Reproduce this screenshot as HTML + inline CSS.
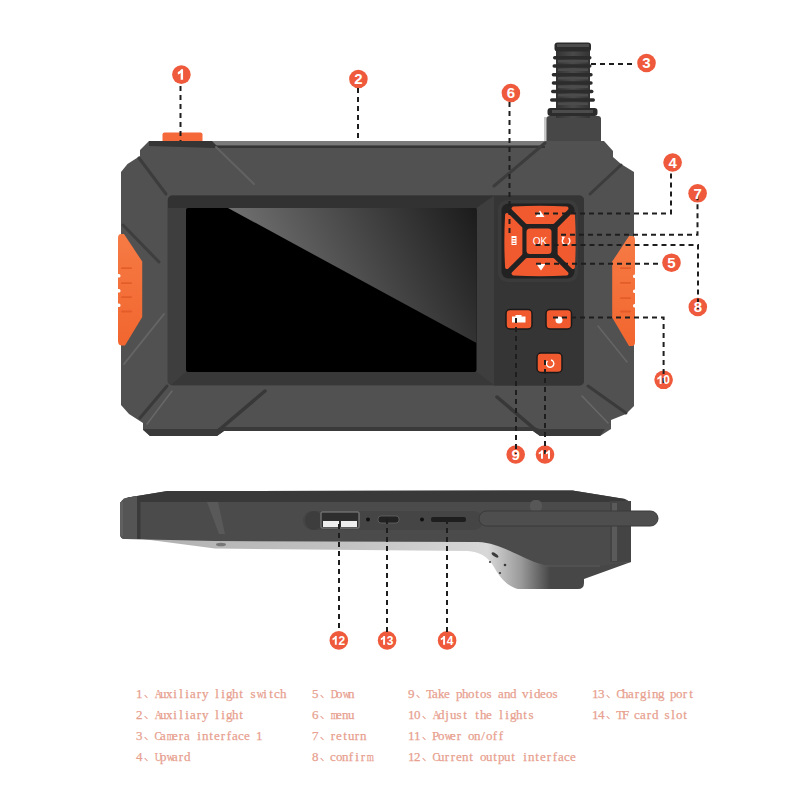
<!DOCTYPE html>
<html><head><meta charset="utf-8">
<style>
html,body{margin:0;padding:0;background:#fff;width:800px;height:800px;overflow:hidden;position:relative}
svg{position:absolute;left:0;top:0}
.t{position:absolute;font-family:"Liberation Serif",serif;font-size:13px;line-height:14px;height:14px;color:#e89f8f;-webkit-text-stroke:0.25px #e89f8f;white-space:pre}
.t b{display:inline-block;width:6px;text-align:center;font-weight:normal}
.t i{display:inline-block;width:12px;height:8px;position:relative;font-style:normal}
.t i:after{content:"";position:absolute;left:2px;top:6px;width:4px;height:1.1px;background:#e89f8f;transform:rotate(45deg)}
.n{font-family:"Liberation Sans",sans-serif;font-weight:bold;fill:#fff;text-anchor:middle}
</style></head><body>
<svg width="800" height="800" viewBox="0 0 800 800">
<defs>
 <linearGradient id="scr" gradientUnits="userSpaceOnUse" x1="228" y1="208" x2="426.4" y2="108.8">
  <stop offset="0" stop-color="#707070"/>
  <stop offset="1" stop-color="#1b1b1b"/>
 </linearGradient>
 <linearGradient id="cab" x1="0" x2="1" y1="0" y2="0">
  <stop offset="0" stop-color="#333"/>
  <stop offset="0.5" stop-color="#4a4a4a"/>
  <stop offset="1" stop-color="#333"/>
 </linearGradient>
 <linearGradient id="uside" gradientUnits="userSpaceOnUse" x1="135" x2="550" y1="0" y2="0">
  <stop offset="0" stop-color="#b0b0b0"/>
  <stop offset="0.5" stop-color="#c2c2c2"/>
  <stop offset="0.85" stop-color="#d8d8d8"/>
  <stop offset="0.93" stop-color="#9a9a9a"/>
  <stop offset="1" stop-color="#474747"/>
 </linearGradient>
</defs>
<!-- cable -->
<g id="cable">
 <rect x="544" y="117" width="4" height="25" fill="#c8c8c8"/>
 <rect x="546.5" y="116" width="54.5" height="30" rx="3" fill="#474747"/>
 <rect x="556" y="45" width="34" height="73" fill="url(#cab)"/>
 <g fill="#2c2c2c">
  <rect x="554.5" y="42.5" width="36.5" height="9" rx="3"/>
  <rect x="553" y="56" width="38.5" height="3.5" rx="1.7"/>
  <rect x="552.5" y="64.3" width="39" height="3.5" rx="1.7"/>
  <rect x="551.7" y="73" width="41" height="3.5" rx="1.7"/>
  <rect x="551.7" y="81.3" width="41" height="3.5" rx="1.7"/>
  <rect x="551" y="89.8" width="42.5" height="3.5" rx="1.7"/>
  <rect x="550" y="98.3" width="45" height="3.5" rx="1.7"/>
  <rect x="547.5" y="108" width="50" height="8" rx="3"/>
 </g>
 <g fill="#4c4c4c">
  <rect x="557" y="44" width="32" height="3"/>
  <rect x="558" y="60" width="30" height="2.5"/>
  <rect x="558" y="68.5" width="30" height="2.5"/>
  <rect x="558" y="77" width="30" height="2.5"/>
  <rect x="558" y="85.5" width="30" height="2.5"/>
  <rect x="558" y="94" width="30" height="2.5"/>
  <rect x="558" y="102.5" width="30" height="2.5"/>
  <rect x="552" y="110" width="41" height="3"/>
 </g>
</g>
<!-- top orange button -->
<rect x="162.5" y="132.5" width="40" height="12" rx="2" fill="#f4683a"/>
<!-- device body -->
<path d="M149,141 L604,141 L613,151 L613,157 L621,164 L634,172 L634,406 L626,414 L611,420 L611,429 L600,436 L540,436 L533,431 L224,431 L217,436 L150,436 L143,430 L143,423 L129,414 L121,405 L121,172 L127.5,164 L140,156 L140,150 Z" fill="#515151"/>
<!-- top strip -->
<path d="M212,141 L545,141 L545,145 L212,145 Z" fill="#7a7a7a"/>
<path d="M149,141 L212,141 L217,146 L545,146 L545,148 L215,148 L149,146 Z" fill="#353535"/>
<path d="M143,429 L217,429 L224,427 L533,427 L540,429 L605,429 L600,436 L540,436 L533,431 L224,431 L217,436 L150,436 Z" fill="#3a3a3a"/>
<!-- grooves -->
<g fill="none" stroke-linecap="round">
 <path d="M216,147 L254,184" stroke="#626262" stroke-width="2"/>
 <path d="M545,143 L494,186" stroke="#3c3c3c" stroke-width="3"/>
 <path d="M139,158 L166,194" stroke="#3c3c3c" stroke-width="3"/>
 <path d="M621,165 L590,194" stroke="#3c3c3c" stroke-width="3"/>
 <path d="M164,314 L124,364" stroke="#656565" stroke-width="2"/>
 <path d="M123,225 L159,262" stroke="#3e3e3e" stroke-width="3"/>
 <path d="M167,386 L140,418" stroke="#3a3a3a" stroke-width="3"/>
 <path d="M172,391 L147,424" stroke="#686868" stroke-width="1.5"/>
 <path d="M265,391 L219,430" stroke="#383838" stroke-width="3.5"/>
 <path d="M497,397 L537,431" stroke="#383838" stroke-width="3.5"/>
 <path d="M588,386 L626,413" stroke="#3a3a3a" stroke-width="3"/>
 <path d="M582,396 L608,423" stroke="#686868" stroke-width="1.5"/>
 <path d="M598,326 L627,362" stroke="#656565" stroke-width="1.5"/>
</g>
<!-- left grip -->
<defs>
 <linearGradient id="grip" x1="0" x2="0" y1="0" y2="1">
  <stop offset="0" stop-color="#f67a44"/>
  <stop offset="1" stop-color="#f2662f"/>
 </linearGradient>
</defs>
<path d="M118,238 Q118,234 121,234 L124,234 L142.2,261.5 L142.2,317 L125,345.5 L122,345.5 Q118,345.5 118,341 Z" fill="url(#grip)"/>
<g fill="#fff">
 <rect x="116" y="274" width="4.5" height="3.5" rx="1.5"/>
 <rect x="116" y="289" width="4.5" height="3.5" rx="1.5"/>
 <rect x="116" y="303.5" width="4.5" height="3.5" rx="1.5"/>
</g>
<g fill="#e35d2a">
 <rect x="121" y="267.3" width="11" height="1.8" rx="0.9"/>
 <rect x="121" y="282.3" width="11" height="1.8" rx="0.9"/>
 <rect x="121" y="296.3" width="11" height="1.8" rx="0.9"/>
 <rect x="121" y="310.6" width="11" height="1.8" rx="0.9"/>
</g>
<!-- right grip -->
<path d="M612.2,261.6 L629,236 L632,236 Q635,236 635,240 L635,342 Q635,346 632,346 L629,346 L612.2,317.6 Z" fill="url(#grip)"/>
<g fill="#fff">
 <rect x="633" y="274.5" width="4" height="3.5" rx="1.5"/>
 <rect x="633" y="289.5" width="4" height="3.5" rx="1.5"/>
 <rect x="633" y="304" width="4" height="3.5" rx="1.5"/>
</g>
<g fill="#e35d2a">
 <rect x="620" y="267.3" width="11" height="1.8" rx="0.9"/>
 <rect x="620" y="282" width="11" height="1.8" rx="0.9"/>
 <rect x="620" y="297.3" width="11" height="1.8" rx="0.9"/>
 <rect x="620" y="310.6" width="11" height="1.8" rx="0.9"/>
</g>
<!-- recess -->
<rect x="167.5" y="195.5" width="416.5" height="190" rx="5" fill="#3e3e3e"/>
<path d="M172.5,195.5 L494,195.5 L476.5,208 L168,208 L168,200 Q168,195.5 172.5,195.5 Z" fill="#323232"/>
<path d="M186,372 L476.5,372 L494,385 L171,385 Z" fill="#383838"/>
<path d="M494,195.5 L579,195.5 Q584,195.5 584,200.5 L584,380.5 Q584,385.5 579,385.5 L494,385.5 Z" fill="#353535"/>
<!-- screen -->
<rect x="186" y="208" width="290.5" height="164" rx="2" fill="#000"/>
<polygon points="228,208 476.5,208 476.5,343" fill="url(#scr)"/>
<!-- dpad -->
<rect x="498" y="200" width="80" height="82" rx="9" fill="#3b3b3b"/>
<rect x="501.5" y="203.5" width="73" height="75" rx="7" fill="#222"/>
<g fill="#f15a2f" stroke="#f15a2f" stroke-width="3.8" stroke-linejoin="round">
 <path d="M513.4,208.5 Q540,207 566.6,208.5 L553.1,222 L526.9,222 Z"/>
 <path d="M513.4,273.5 Q540,275 566.6,273.5 L553.1,260 L526.9,260 Z"/>
 <path d="M507,214.9 L520.5,228.4 L520.5,253.6 L507,267.1 Q505.5,241 507,214.9 Z"/>
 <path d="M573,214.9 L559.5,228.4 L559.5,253.6 L573,267.1 Q574.5,241 573,214.9 Z"/>
</g>
<rect x="526.5" y="228.5" width="25" height="25.5" rx="3.5" fill="#f15a2f"/>
<g fill="#fff">
 <polygon points="540,210.5 544.5,217 535.5,217"/>
 <polygon points="541,270.5 545.5,264 536.5,264"/>
 <rect x="511.5" y="236" width="5" height="9"/>
 <text x="540" y="244.5" font-family="Liberation Sans" font-size="10" text-anchor="middle">OK</text>
</g>
<rect x="512.5" y="238" width="3" height="1" fill="#f15a2f"/>
<rect x="512.5" y="240.5" width="3" height="1" fill="#f15a2f"/>
<rect x="512.5" y="243" width="3" height="1" fill="#f15a2f"/>
<path d="M563.2,238.5 A3.8,3.8 0 1 0 568.5,238" fill="none" stroke="#fff" stroke-width="1.4"/>
<polygon points="561.5,236.5 565,236.8 563,240" fill="#fff"/>
<!-- lower buttons -->
<g fill="#f15a2f" stroke="#1a1a1a" stroke-width="1.5">
 <rect x="506" y="309.5" width="26" height="19.5" rx="4"/>
 <rect x="546" y="309.5" width="25.5" height="19.5" rx="4"/>
 <rect x="537" y="353" width="25" height="19.5" rx="4"/>
</g>
<g fill="#fff">
 <rect x="512" y="316.5" width="13.5" height="6"/>
 <rect x="515.5" y="315" width="6" height="2"/>
 <circle cx="559" cy="320" r="3.5"/>
</g>
<path d="M547.5,361 A3.7,3.7 0 1 0 551,360" fill="none" stroke="#fff" stroke-width="1.4"/>
<!-- callouts -->
<g fill="#ef5a3c">
 <circle cx="181.4" cy="74.6" r="9.3"/>
 <circle cx="358.4" cy="79" r="9.3"/>
 <circle cx="646.5" cy="63" r="9.3"/>
 <circle cx="672.6" cy="162.5" r="9.3"/>
 <circle cx="671.5" cy="262.7" r="9.3"/>
 <circle cx="510.9" cy="93" r="9.3"/>
 <circle cx="697.6" cy="193.3" r="9.3"/>
 <circle cx="697.8" cy="307" r="9.3"/>
 <circle cx="515.7" cy="454.5" r="9.3"/>
 <circle cx="663.6" cy="379.8" r="9.3"/>
 <circle cx="545" cy="454.5" r="9.3"/>
 <circle cx="338.8" cy="640.4" r="9.3"/>
 <circle cx="387.1" cy="640.4" r="9.3"/>
 <circle cx="447.1" cy="640.4" r="9.3"/>
</g>
<!-- dashed lines -->
<g fill="none" stroke="#1e1e1e" stroke-width="2" stroke-dasharray="5 4">
 <path d="M180.5,86 V141"/>
 <path d="M358,88 V141"/>
 <path d="M591,64 H634"/>
 <path d="M535,213.5 H671 V172"/>
 <path d="M561,234.7 H697.5 V195"/>
 <path d="M535.5,245 H698 V309"/>
 <path d="M536,263.8 H662"/>
 <path d="M509.5,102 V237"/>
 <path d="M553,317.5 H663.6 V385"/>
 <path d="M516,318 V454"/>
 <path d="M545,360 V454"/>
</g>
<g class="n" fill="#fff">
 <path transform="translate(181.4,74.6) scale(1.05)" d="M-0.2,-5.1 L1.6,-5.1 L1.6,5 L-0.7,5 L-0.7,-1.6 Q-1.9,-0.6 -3.4,-0.2 L-3.4,-2.4 Q-1.2,-3.2 -0.2,-5.1 Z"/>
 <text x="358.4" y="84.3" font-size="15">2</text>
 <text x="646.5" y="68.3" font-size="15">3</text>
 <text x="672.6" y="167.8" font-size="15">4</text>
 <text x="671.5" y="268.0" font-size="15">5</text>
 <text x="510.9" y="98.3" font-size="15">6</text>
 <text x="697.6" y="198.6" font-size="15">7</text>
 <text x="697.8" y="312.3" font-size="15">8</text>
 <text x="515.7" y="459.8" font-size="15">9</text>
 <path transform="translate(660.2,379.8) scale(0.85)" d="M-0.2,-5.1 L1.6,-5.1 L1.6,5 L-0.7,5 L-0.7,-1.6 Q-1.9,-0.6 -3.4,-0.2 L-3.4,-2.4 Q-1.2,-3.2 -0.2,-5.1 Z"/>
 <text x="666.6" y="384.1" font-size="12">0</text>
 <path transform="translate(541.6,454.5) scale(0.85)" d="M-0.2,-5.1 L1.6,-5.1 L1.6,5 L-0.7,5 L-0.7,-1.6 Q-1.9,-0.6 -3.4,-0.2 L-3.4,-2.4 Q-1.2,-3.2 -0.2,-5.1 Z"/>
 <path transform="translate(548.6,454.5) scale(0.85)" d="M-0.2,-5.1 L1.6,-5.1 L1.6,5 L-0.7,5 L-0.7,-1.6 Q-1.9,-0.6 -3.4,-0.2 L-3.4,-2.4 Q-1.2,-3.2 -0.2,-5.1 Z"/>
 <path transform="translate(335.4,640.4) scale(0.85)" d="M-0.2,-5.1 L1.6,-5.1 L1.6,5 L-0.7,5 L-0.7,-1.6 Q-1.9,-0.6 -3.4,-0.2 L-3.4,-2.4 Q-1.2,-3.2 -0.2,-5.1 Z"/>
 <text x="341.8" y="644.7" font-size="12">2</text>
 <path transform="translate(383.7,640.4) scale(0.85)" d="M-0.2,-5.1 L1.6,-5.1 L1.6,5 L-0.7,5 L-0.7,-1.6 Q-1.9,-0.6 -3.4,-0.2 L-3.4,-2.4 Q-1.2,-3.2 -0.2,-5.1 Z"/>
 <text x="390.1" y="644.7" font-size="12">3</text>
 <path transform="translate(443.7,640.4) scale(0.85)" d="M-0.2,-5.1 L1.6,-5.1 L1.6,5 L-0.7,5 L-0.7,-1.6 Q-1.9,-0.6 -3.4,-0.2 L-3.4,-2.4 Q-1.2,-3.2 -0.2,-5.1 Z"/>
 <text x="450.1" y="644.7" font-size="12">4</text>
</g>
<!-- side view -->
<g id="side">
 <path d="M508,566 L631,562 L584,579 L584,583 Q584,589 578,589 L520,589 Z" fill="#474747"/>
 <path d="M135,538 L215,548.5 L468,551 C478,551.5 488,556 494,567 C500,578 507,586 518,589 L550,589 L550,538 Z" fill="url(#uside)"/>
 <path d="M120,506 Q120,499 128,497.5 L167.5,491 L572.5,490.5 L625,499 Q631,501 631,507 L631,562 L600,566 L550,566 C525,563 505,543 478,542 L215,541 L125,539 Q120,539 120,534 Z" fill="#4b4b4b"/>
 <path d="M540,566 L600,566" stroke="#5a5a5a" stroke-width="1"/>
 <path d="M128,497.5 L167.5,491 L572.5,490.5 L625,499 L626,502 L128,502 Z" fill="#393939"/>
 <path d="M120,506 Q120,499 128,497.5 L137,496 L137,539 L125,539 Q120,539 120,534 Z" fill="#555"/>
 <rect x="120" y="502" width="3" height="34" fill="#606060"/>
 <rect x="137" y="496" width="3.5" height="43" fill="#3a3a3a"/>
 <path d="M207,502 L218,502 L225,534 L219,534 Z" fill="#595959"/>
 <rect x="610" y="501" width="21" height="61" fill="#444"/>
 <rect x="612" y="503" width="5" height="58" fill="#5a5a5a"/>
 <ellipse cx="221" cy="544.5" rx="5" ry="1.8" fill="#777"/>
 <rect x="303" y="511" width="180" height="19" rx="9" fill="#454545"/>
 <rect x="305" y="511" width="18" height="19" rx="9" fill="#3d3d3d"/>
 <rect x="530" y="500" width="12" height="12" rx="5" fill="#575757"/>
 <rect x="479" y="511" width="179" height="15" rx="7.5" fill="#4e4e4e" stroke="#3a3a3a" stroke-width="1"/>
 <rect x="321" y="512" width="38" height="16" rx="1" fill="#2e2e2e" stroke="#888" stroke-width="1"/>
 <rect x="323" y="521" width="16" height="6" fill="#eee"/>
 <rect x="341" y="521" width="16" height="6" fill="#eee"/>
 <circle cx="368" cy="519.5" r="2" fill="#111"/>
 <rect x="378" y="516" width="21" height="7" rx="3" fill="#222" stroke="#666" stroke-width="0.8"/>
 <circle cx="422" cy="519.5" r="2" fill="#111"/>
 <rect x="431" y="517" width="35" height="5" rx="2" fill="#1e1e1e"/>
 <g fill="#3a3a3a">
  <ellipse cx="495" cy="555" rx="4" ry="1.6" transform="rotate(35 495 555)"/>
  <circle cx="505" cy="565" r="1.3"/>
  <circle cx="500" cy="573" r="1.1"/>
  <circle cx="490" cy="562" r="1"/>
 </g>
</g>
<g fill="none" stroke="#1e1e1e" stroke-width="2" stroke-dasharray="5 4">
 <path d="M339,524 V632"/>
 <path d="M387,519 V632"/>
 <path d="M447,519 V632"/>
</g>
</svg>
<div class="t" style="left:136px;top:687px"><b>1</b><i></i><b style="transform:scaleX(0.77)">A</b><b>u</b><b>x</b><b>i</b><b>l</b><b>i</b><b>a</b><b>r</b><b>y</b><b>&nbsp;</b><b>l</b><b>i</b><b>g</b><b>h</b><b>t</b><b>&nbsp;</b><b>s</b><b style="transform:scaleX(0.77)">w</b><b>i</b><b>t</b><b>c</b><b>h</b></div>
<div class="t" style="left:136px;top:708px"><b>2</b><i></i><b style="transform:scaleX(0.77)">A</b><b>u</b><b>x</b><b>i</b><b>l</b><b>i</b><b>a</b><b>r</b><b>y</b><b>&nbsp;</b><b>l</b><b>i</b><b>g</b><b>h</b><b>t</b></div>
<div class="t" style="left:136px;top:729px"><b>3</b><i></i><b style="transform:scaleX(0.83)">C</b><b>a</b><b style="transform:scaleX(0.71)">m</b><b>e</b><b>r</b><b>a</b><b>&nbsp;</b><b>i</b><b>n</b><b>t</b><b>e</b><b>r</b><b>f</b><b>a</b><b>c</b><b>e</b><b>&nbsp;</b><b>1</b></div>
<div class="t" style="left:136px;top:750px"><b>4</b><i></i><b style="transform:scaleX(0.77)">U</b><b>p</b><b style="transform:scaleX(0.77)">w</b><b>a</b><b>r</b><b>d</b></div>
<div class="t" style="left:312px;top:687px"><b>5</b><i></i><b style="transform:scaleX(0.77)">D</b><b>o</b><b style="transform:scaleX(0.77)">w</b><b>n</b></div>
<div class="t" style="left:312px;top:708px"><b>6</b><i></i><b style="transform:scaleX(0.71)">m</b><b>e</b><b>n</b><b>u</b></div>
<div class="t" style="left:312px;top:729px"><b>7</b><i></i><b>r</b><b>e</b><b>t</b><b>u</b><b>r</b><b>n</b></div>
<div class="t" style="left:312px;top:750px"><b>8</b><i></i><b>c</b><b>o</b><b>n</b><b>f</b><b>i</b><b>r</b><b style="transform:scaleX(0.71)">m</b></div>
<div class="t" style="left:408px;top:687px"><b>9</b><i></i><b style="transform:scaleX(0.91)">T</b><b>a</b><b>k</b><b>e</b><b>&nbsp;</b><b>p</b><b>h</b><b>o</b><b>t</b><b>o</b><b>s</b><b>&nbsp;</b><b>a</b><b>n</b><b>d</b><b>&nbsp;</b><b>v</b><b>i</b><b>d</b><b>e</b><b>o</b><b>s</b></div>
<div class="t" style="left:408px;top:708px"><b>1</b><b>0</b><i></i><b style="transform:scaleX(0.77)">A</b><b>d</b><b>j</b><b>u</b><b>s</b><b>t</b><b>&nbsp;</b><b>t</b><b>h</b><b>e</b><b>&nbsp;</b><b>l</b><b>i</b><b>g</b><b>h</b><b>t</b><b>s</b></div>
<div class="t" style="left:408px;top:729px"><b>1</b><b>1</b><i></i><b style="transform:scaleX(1.00)">P</b><b>o</b><b style="transform:scaleX(0.77)">w</b><b>e</b><b>r</b><b>&nbsp;</b><b>o</b><b>n</b><b>/</b><b>o</b><b>f</b><b>f</b></div>
<div class="t" style="left:408px;top:750px"><b>1</b><b>2</b><i></i><b style="transform:scaleX(0.83)">C</b><b>u</b><b>r</b><b>r</b><b>e</b><b>n</b><b>t</b><b>&nbsp;</b><b>o</b><b>u</b><b>t</b><b>p</b><b>u</b><b>t</b><b>&nbsp;</b><b>i</b><b>n</b><b>t</b><b>e</b><b>r</b><b>f</b><b>a</b><b>c</b><b>e</b></div>
<div class="t" style="left:592px;top:687px"><b>1</b><b>3</b><i></i><b style="transform:scaleX(0.83)">C</b><b>h</b><b>a</b><b>r</b><b>g</b><b>i</b><b>n</b><b>g</b><b>&nbsp;</b><b>p</b><b>o</b><b>r</b><b>t</b></div>
<div class="t" style="left:592px;top:708px"><b>1</b><b>4</b><i></i><b style="transform:scaleX(0.91)">T</b><b style="transform:scaleX(1.00)">F</b><b>&nbsp;</b><b>c</b><b>a</b><b>r</b><b>d</b><b>&nbsp;</b><b>s</b><b>l</b><b>o</b><b>t</b></div>
</body></html>
